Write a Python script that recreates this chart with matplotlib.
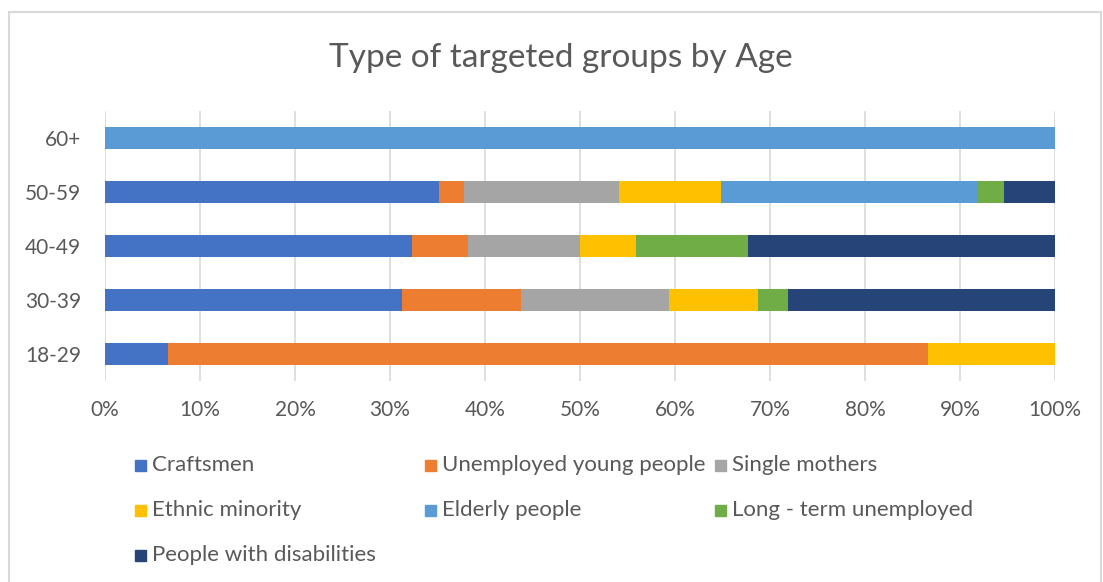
import matplotlib.pyplot as plt
import matplotlib.patches as mpatches
import numpy as np

# counts of respondents per age band and targeted group
ages = ["18-29", "30-39", "40-49", "50-59", "60+"]
groups = ["Craftsmen", "Unemployed young people", "Single mothers",
          "Ethnic minority", "Elderly people", "Long - term unemployed",
          "People with disabilities"]
craftsmen = [1, 10, 11, 13, 0]
unemployed_young = [12, 4, 2, 1, 0]
single_mothers = [0, 5, 4, 6, 0]
ethnic_minority = [2, 3, 2, 4, 0]
elderly = [0, 0, 0, 10, 1]
long_term = [0, 1, 4, 1, 0]
disabilities = [0, 9, 11, 2, 0]
colors = ["#4472C4", "#ED7D31", "#A5A5A5", "#FFC000", "#5B9BD5", "#70AD47", "#264478"]

series = np.array([craftsmen, unemployed_young, single_mothers, ethnic_minority,
                   elderly, long_term, disabilities], dtype=float)
shares = series / series.sum(axis=0) * 100

plt.rcParams['font.family'] = ['Lato', 'DejaVu Sans']
txt = "#595959"

fig = plt.figure(figsize=(11.03, 5.82), dpi=100)
ax = fig.add_axes([105/1103, 1 - 381/582, 950/1103, 270/582])

y = np.arange(len(ages))
left = np.zeros(len(ages))
for vals, c in zip(shares, colors):
    ax.barh(y, vals, left=left, height=0.4, color=c, zorder=3)
    left += vals

ax.set_xlim(0, 100)
ax.set_ylim(-0.5, len(ages) - 0.5)
ax.set_xticks(np.arange(0, 101, 10))
ax.set_xticklabels([f"{v}%" for v in range(0, 101, 10)])
ax.set_yticks(y)
ax.set_yticklabels(ages)
ax.tick_params(length=0, labelsize=15, colors=txt)
ax.tick_params(axis="x", pad=14)
ax.tick_params(axis="y", pad=17)
ax.grid(axis="x", color="#D9D9D9", lw=1.2, zorder=0)
for s in ax.spines.values():
    s.set_visible(False)

fig.text(561/1103, 1 - 58/582, "Type of targeted groups by Age",
         ha="center", va="center", fontsize=24, color=txt)

# legend laid out in rows of three
for i, (g, c) in enumerate(zip(groups, colors)):
    col, row = i % 3, i // 3
    x0 = (135 + 290 * col) / 1103
    yc = 1 - (465 + 45 * row) / 582
    fig.patches.append(mpatches.Rectangle((x0, yc - 5.5/582), 11/1103, 11/582,
                                          transform=fig.transFigure, color=c))
    fig.text(x0 + 17/1103, yc, g, ha="left", va="center", fontsize=16, color=txt)

# chart border
fig.patches.append(mpatches.Rectangle((9/1103, -0.01), 1092/1103, 1 - 12/582 + 0.01,
                                      transform=fig.transFigure, fill=False,
                                      ec="#D9D9D9", lw=1.5))

fig.savefig("out.png", dpi=100)
